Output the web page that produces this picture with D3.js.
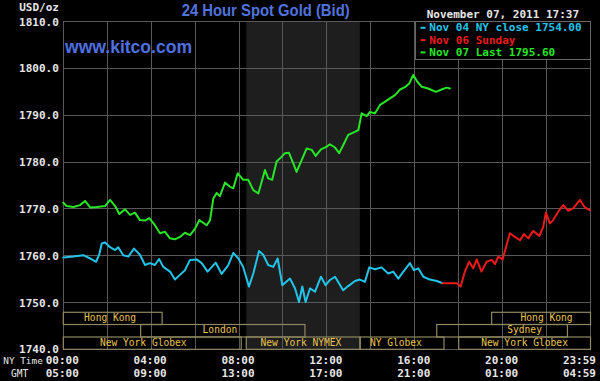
<!DOCTYPE html>
<html><head><meta charset="utf-8">
<script src="https://cdn.jsdelivr.net/npm/d3@7"></script>
<style>body{margin:0;background:#000}svg{display:block}</style>
</head><body><svg id="c" width="600" height="381"></svg>
<script>
// ---------- DATA ----------
const yTickValues = [1740, 1750, 1760, 1770, 1780, 1790, 1800, 1810];
const hourTicks = [0, 4, 8, 12, 16, 20, 24];
const nyTimeLabels = ["00:00", "04:00", "08:00", "12:00", "16:00", "20:00", "23:59"];
const gmtLabels = ["05:00", "09:00", "13:00", "17:00", "21:00", "01:00", "04:59"];
const gridHours = [0, 2, 4, 6, 8, 10, 12, 14, 16, 18, 20, 22, 24];
const nymexShade = [8.33, 13.5];

// [hour, price]
const nov04Close = [
  [0,1759.6],[0.46,1759.8],[0.91,1760.1],[1.22,1759.4],[1.49,1758.7],[1.64,1760.3],[1.75,1762.6],[1.90,1762.8],
  [2.13,1761.8],[2.36,1761.2],[2.50,1761.8],[2.73,1760.1],[2.96,1759.8],[3.22,1761.5],[3.49,1760.2],[3.72,1758.0],
  [3.94,1758.4],[4.17,1758.0],[4.36,1759.3],[4.55,1757.6],[4.86,1756.6],[5.08,1754.9],[5.31,1755.9],[5.54,1756.9],
  [5.77,1759.1],[6.07,1759.2],[6.30,1758.4],[6.57,1756.6],[6.94,1758.5],[7.21,1756.1],[7.51,1758.0],[7.74,1760.6],
  [7.97,1759.4],[8.19,1757.6],[8.45,1753.4],[8.65,1756.2],[8.91,1761.0],[9.10,1760.2],[9.33,1758.0],[9.56,1757.6],
  [9.76,1759.4],[9.97,1753.7],[10.32,1755.1],[10.55,1753.0],[10.73,1750.1],[10.88,1753.4],[11.03,1750.1],[11.23,1753.0],
  [11.46,1752.3],[11.73,1755.5],[11.94,1753.7],[12.14,1754.8],[12.37,1755.5],[12.74,1752.6],[12.97,1753.5],[13.28,1754.6],
  [13.50,1754.9],[13.73,1754.4],[13.93,1757.5],[14.19,1757.1],[14.49,1757.5],[14.79,1756.2],[15.02,1756.6],[15.25,1755.1],
  [15.48,1756.6],[15.78,1758.4],[15.96,1756.9],[16.16,1757.3],[16.39,1755.5],[16.69,1754.9],[17.00,1754.6],[17.27,1754.1]
];
const nov06Sunday = [
  [17.27,1754.1],[17.91,1754.1],[18.09,1753.4],[18.28,1756.6],[18.48,1758.7],[18.66,1757.3],[18.82,1759.2],[19.04,1756.6],
  [19.27,1758.7],[19.50,1759.1],[19.65,1758.2],[19.80,1759.8],[20.00,1759.2],[20.18,1762.3],[20.33,1764.8],[20.56,1764.0],
  [20.79,1763.3],[20.97,1764.6],[21.17,1763.7],[21.39,1765.3],[21.67,1764.2],[21.85,1766.2],[21.97,1769.2],[22.15,1766.9],
  [22.30,1767.6],[22.53,1769.4],[22.76,1770.8],[22.99,1769.6],[23.21,1770.1],[23.52,1771.9],[23.75,1770.3],[23.98,1769.7]
];
const nov07Last = [
  [0,1771.3],[0.15,1770.6],[0.46,1770.4],[0.76,1770.8],[0.99,1771.7],[1.22,1770.3],[1.52,1770.4],[1.90,1770.6],
  [2.13,1771.9],[2.36,1770.6],[2.55,1768.9],[2.81,1769.9],[3.04,1768.7],[3.26,1769.2],[3.49,1767.6],[3.72,1767.5],
  [3.91,1768.0],[4.17,1766.5],[4.40,1764.8],[4.63,1765.1],[4.86,1763.7],[5.08,1763.5],[5.31,1764.0],[5.54,1764.9],
  [5.77,1764.4],[6.00,1765.8],[6.19,1767.6],[6.53,1766.5],[6.68,1767.6],[6.83,1772.2],[6.98,1773.4],[7.13,1772.7],
  [7.36,1775.6],[7.59,1774.7],[7.74,1774.4],[7.94,1777.6],[8.19,1776.2],[8.42,1776.2],[8.65,1774.0],[8.88,1773.3],
  [9.18,1778.3],[9.33,1776.5],[9.51,1776.2],[9.71,1780.1],[9.91,1781.0],[10.09,1781.9],[10.27,1782.0],[10.47,1779.7],
  [10.62,1777.9],[10.85,1780.4],[11.08,1782.9],[11.31,1782.6],[11.49,1781.3],[11.73,1782.7],[11.99,1783.3],[12.14,1783.8],
  [12.37,1783.1],[12.56,1781.9],[12.74,1783.6],[12.97,1785.8],[13.20,1786.3],[13.43,1786.8],[13.58,1790.4],[13.81,1789.8],
  [13.96,1790.7],[14.19,1790.4],[14.42,1792.2],[14.65,1792.9],[14.87,1793.6],[15.10,1794.3],[15.33,1795.5],[15.55,1796.0],
  [15.75,1796.8],[15.93,1798.6],[16.11,1797.2],[16.31,1796.1],[16.61,1795.7],[16.96,1795.0],[17.22,1795.5],[17.45,1795.9],
  [17.60,1795.7]
];

// session rows: [name, row, startHour, endHour, labelHour]
const sessions = [
  ["Hong Kong", 0, 0, 4.5, 2.13],
  ["Hong Kong", 0, 19.5, 24, 22.0],
  ["London", 1, 3.52, 11.0, 7.13],
  ["Sydney", 1, 17.0, 22.95, 21.0],
  ["New York Globex", 2, 0, 8.1, 3.64],
  ["New York NYMEX", 2, 8.33, 13.5, 10.82],
  ["NY Globex", 2, 13.52, 17.33, 15.14],
  ["New York Globex", 2, 18.0, 24, 21.0]
];

const legendLabels = ["Nov 04 NY close 1754.00", "Nov 06 Sunday", "Nov 07 Last 1795.60"];
const titleText = "24 Hour Spot Gold (Bid)";
const siteText = "www.kitco.com";
const dateText = "November 07, 2011 17:37";
const unitText = "USD/oz";

// ---------- DRAW ----------
const svg = d3.select("#c");
const mono = "'DejaVu Sans Mono', monospace";
const colors = {cyan: "#22c4ea", red: "#ec1a1a", green: "#26e626"};

const x = d3.scaleLinear().domain([0, 24]).range([63.3, 590.5]);
const y = d3.scaleLinear().domain([1740, 1810]).range([349.3, 21.6]);

svg.append("rect").attr("width", 600).attr("height", 381).attr("fill", "#000");

// NYMEX shading
svg.append("rect")
  .attr("x", x(nymexShade[0])).attr("y", y(1810))
  .attr("width", x(nymexShade[1]) - x(nymexShade[0]))
  .attr("height", y(1740) - y(1810))
  .attr("fill", "#1e1e1e");

// grid
const grid = svg.append("g").attr("stroke", "#585858").attr("stroke-width", 1).attr("shape-rendering", "crispEdges");
grid.selectAll("line.h").data(yTickValues).join("line")
  .attr("x1", x(0)).attr("x2", x(24)).attr("y1", d => y(d)).attr("y2", d => y(d));
grid.selectAll("line.v").data(gridHours).join("line")
  .attr("y1", y(1810)).attr("y2", y(1740)).attr("x1", d => x(d)).attr("x2", d => x(d));

// session boxes
const rowTop = [312.3, 324.5, 337.0];
const rowH = [12.2, 12.5, 12.3];
const sg = svg.append("g");
sg.selectAll("rect").data(sessions).join("rect")
  .attr("x", d => x(d[2])).attr("y", d => rowTop[d[1]])
  .attr("width", d => x(d[3]) - x(d[2])).attr("height", d => rowH[d[1]])
  .attr("fill", "none").attr("stroke", "#8e8860").attr("stroke-width", 1.2);
sg.selectAll("text").data(sessions).join("text")
  .attr("x", d => x(d[4])).attr("y", d => rowTop[d[1]] + 8.6)
  .attr("text-anchor", "middle").attr("fill", "#e8c452")
  .attr("font-family", mono).attr("font-size", 9.6)
  .text(d => d[0]);

// lines
const line = d3.line().x(d => x(d[0])).y(d => y(d[1]));
[[nov04Close, colors.cyan], [nov06Sunday, colors.red], [nov07Last, colors.green]].forEach(([data, c]) => {
  svg.append("path").datum(data).attr("d", line)
    .attr("fill", "none").attr("stroke", c).attr("stroke-width", 2)
    .attr("stroke-linejoin", "round").attr("stroke-linecap", "round");
});

// y axis labels
const yAxis = d3.axisLeft(y).tickValues(yTickValues).tickFormat(d3.format(".1f")).tickSize(0).tickPadding(4.5);
const ya = svg.append("g").attr("transform", `translate(${x(0)},0)`).call(yAxis);
ya.select(".domain").remove();
ya.selectAll("text").attr("fill", "#e6e6e6").attr("font-family", mono).attr("font-size", 11).attr("font-weight", "bold");

svg.append("text").attr("x", 59).attr("y", 11).attr("text-anchor", "end")
  .attr("fill", "#e6e6e6").attr("font-family", mono).attr("font-size", 11).attr("font-weight", "bold").text(unitText);

// x axes (NY time and GMT)
function timeAxis(labels, baseY) {
  const ax = d3.axisBottom(x).tickValues(hourTicks).tickFormat((d, i) => labels[i]).tickSize(0).tickPadding(0);
  const g = svg.append("g").attr("transform", `translate(0,${baseY})`).call(ax);
  g.select(".domain").remove();
  g.selectAll("text").attr("dy", null).attr("y", 0)
    .attr("fill", "#e6e6e6").attr("font-family", mono).attr("font-size", 11).attr("font-weight", "bold")
    .attr("dx", (d, i) => i === hourTicks.length - 1 ? 5 : -1.5)
    .attr("text-anchor", (d, i) => i === hourTicks.length - 1 ? "end" : "middle");
}
timeAxis(nyTimeLabels, 364);
timeAxis(gmtLabels, 377);
svg.append("text").attr("x", 3.3).attr("y", 364).attr("fill", "#e6e6e6")
  .attr("font-family", mono).attr("font-size", 9.4).text("NY Time");
svg.append("text").attr("x", 11).attr("y", 377).attr("fill", "#e6e6e6")
  .attr("font-family", mono).attr("font-size", 9.6).text("GMT");

// titles
svg.append("text").attr("x", 181.7).attr("y", 16).attr("fill", "#5073dd")
  .attr("font-family", "'Liberation Sans', Arial, sans-serif").attr("font-weight", "bold")
  .attr("font-size", 17).attr("textLength", 168).attr("lengthAdjust", "spacingAndGlyphs").text(titleText);
svg.append("text").attr("x", 65).attr("y", 53.3).attr("fill", "#4f70e0")
  .attr("font-family", "'Liberation Sans', Arial, sans-serif").attr("font-weight", "bold")
  .attr("font-size", 17.5).attr("textLength", 127).attr("lengthAdjust", "spacingAndGlyphs").text(siteText);
svg.append("text").attr("x", 426.7).attr("y", 17.5).attr("fill", "#e6e6e6")
  .attr("font-family", mono).attr("font-size", 11).attr("font-weight", "bold").text(dateText);

// legend
const lg = svg.append("g");
lg.append("rect").attr("x", 415).attr("y", y(1810)).attr("width", x(24) - 415).attr("height", 38)
  .attr("fill", "#000").attr("stroke", "#666").attr("stroke-width", 1).attr("shape-rendering", "crispEdges");
const legColors = [colors.cyan, colors.red, colors.green];
legendLabels.forEach((t, i) => {
  const by = 31.3 + i * 12.3;
  lg.append("line").attr("x1", 420.5).attr("x2", 425.5).attr("y1", by - 3.5).attr("y2", by - 3.5)
    .attr("stroke", legColors[i]).attr("stroke-width", 2);
  lg.append("text").attr("x", 429.3).attr("y", by).attr("fill", legColors[i])
    .attr("font-family", mono).attr("font-size", 11).attr("font-weight", "bold").text(t);
});
</script>
</body></html>
